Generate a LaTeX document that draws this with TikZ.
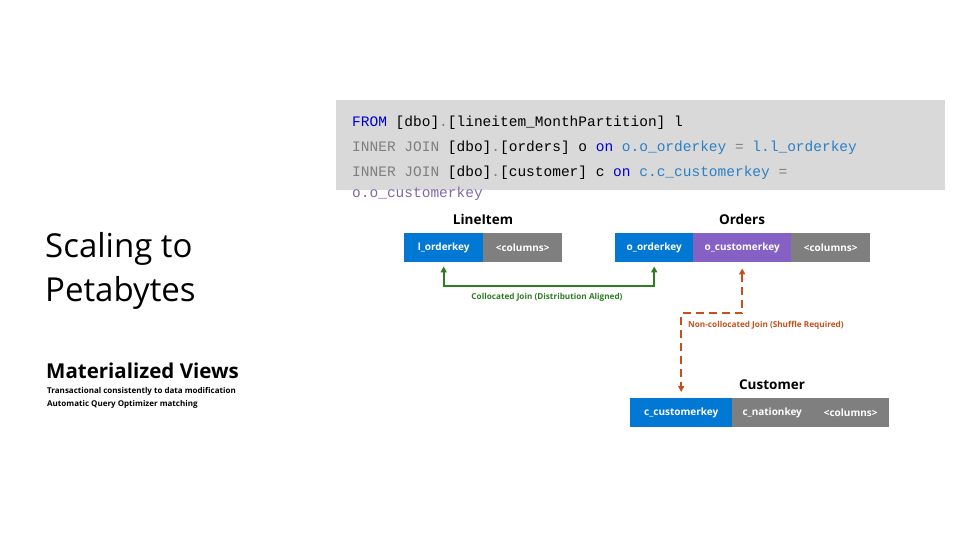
\documentclass[tikz,border=0pt]{standalone}
\usepackage{fontspec}
\setmainfont{Open Sans}
\newfontfamily\codefont{Liberation Mono}
\usetikzlibrary{arrows.meta}
\definecolor{cellblue}{HTML}{0078D4}
\definecolor{cellgrey}{HTML}{7F7F7F}
\definecolor{cellpurple}{HTML}{8661C5}
\definecolor{joingreen}{HTML}{2E7D22}
\definecolor{joinorange}{HTML}{C4501A}
\definecolor{codebg}{HTML}{D9D9D9}
\definecolor{kwblue}{HTML}{0000CD}
\definecolor{idblue}{HTML}{2B7FC4}
\definecolor{codegrey}{HTML}{7F7F7F}
\definecolor{idpurple}{HTML}{7D68A8}
\tikzset{
  cell/.style={rectangle, inner sep=0pt, minimum height=29pt, anchor=north west, text=white, font=\fontsize{10}{11}\selectfont\bfseries},
  tabtitle/.style={font=\fontsize{13.5}{15}\selectfont\bfseries, inner sep=0pt},
  codeline/.style={anchor=base west, inner sep=0pt, font=\codefont\fontsize{14.5}{16}\selectfont},
  joinlabel/.style={font=\fontsize{8.2}{9}\selectfont\bfseries, inner sep=0pt},
  greenjoin/.style={draw=joingreen, line width=2pt, arrows={Triangle[length=6pt,width=6pt]-Triangle[length=6pt,width=6pt]}},
  orangejoin/.style={draw=joinorange, line width=2pt, dash pattern=on 8pt off 5pt, arrows={Triangle[length=6pt,width=6pt]-Triangle[length=6pt,width=6pt]}}
}
\begin{document}
\begin{tikzpicture}[x=1pt,y=-1pt]
\useasboundingbox (0,0) rectangle (960,540);
% code box
\fill[codebg] (336,100) rectangle (945,190);
\node[codeline] (c1) at (352,127) {\textcolor{kwblue}{FROM} [dbo]\textcolor{codegrey}{.}[lineitem\_MonthPartition] l};
\node[codeline] (c2) at (352,152) {\textcolor{codegrey}{INNER JOIN} [dbo]\textcolor{codegrey}{.}[orders] o \textcolor{kwblue}{on} \textcolor{idblue}{o.o\_orderkey} \textcolor{codegrey}{=} \textcolor{idblue}{l.l\_orderkey}};
\node[codeline] (c3) at (352,177) {\textcolor{codegrey}{INNER JOIN} [dbo]\textcolor{codegrey}{.}[customer] c \textcolor{kwblue}{on} \textcolor{idblue}{c.c\_customerkey} \textcolor{codegrey}{=}};
\node[codeline] (c4) at (352,197) {\textcolor{idpurple}{o.o\_customerkey}};
% left texts
\node[anchor=west, inner sep=0pt, font=\fontsize{33}{38}\selectfont] (s1) at (45,249) {Scaling to};
\node[anchor=west, inner sep=0pt, font=\fontsize{33}{38}\selectfont] (s2) at (45,293) {Petabytes};
\node[anchor=west, inner sep=0pt, font=\fontsize{20.5}{23}\selectfont\bfseries] (mv) at (46,371) {Materialized Views};
\node[anchor=west, inner sep=0pt, font=\fontsize{8}{9}\selectfont\bfseries] (mv1) at (47,391) {Transactional consistently to data modification};
\node[anchor=west, inner sep=0pt, font=\fontsize{8}{9}\selectfont\bfseries] (mv2) at (47,404) {Automatic Query Optimizer matching};
% LineItem
\node[tabtitle] (tli) at (483,219) {LineItem};
\node[cell, fill=cellblue, minimum width=79pt] (li1) at (404,233) {l\_orderkey};
\node[cell, fill=cellgrey, minimum width=79pt] (li2) at (483,233) {<columns>};
% Orders
\node[tabtitle] (tor) at (742,219) {Orders};
\node[cell, fill=cellblue, minimum width=78pt] (oo1) at (615,233) {o\_orderkey};
\node[cell, fill=cellpurple, minimum width=98pt] (oc) at (693,233) {o\_customerkey};
\node[cell, fill=cellgrey, minimum width=79pt] (oo3) at (791,233) {<columns>};
% Customer
\node[tabtitle] (tcu) at (772,385) {Customer};
\node[cell, fill=cellblue, minimum width=102pt] (cc) at (630,398) {c\_customerkey};
\node[cell, fill=cellgrey, minimum width=80pt] (cn) at (732,398) {c\_nationkey};
\node[cell, fill=cellgrey, minimum width=77pt] (cx) at (812,398) {<columns>};
% joins
\draw[greenjoin, shorten <=4pt, shorten >=4pt] (li1.south) -- ++(0,24) -| (oo1.south);
\node[joinlabel, text=joingreen] (gl) at (547,297) {Collocated Join (Distribution Aligned)};
\draw[orangejoin, shorten <=6pt, shorten >=6pt] (oc.south) -- ++(0,51) -| (cc.north);
\node[joinlabel, text=joinorange, anchor=west] (ol) at (688,325) {Non-collocated Join (Shuffle Required)};
\end{tikzpicture}
\end{document}
